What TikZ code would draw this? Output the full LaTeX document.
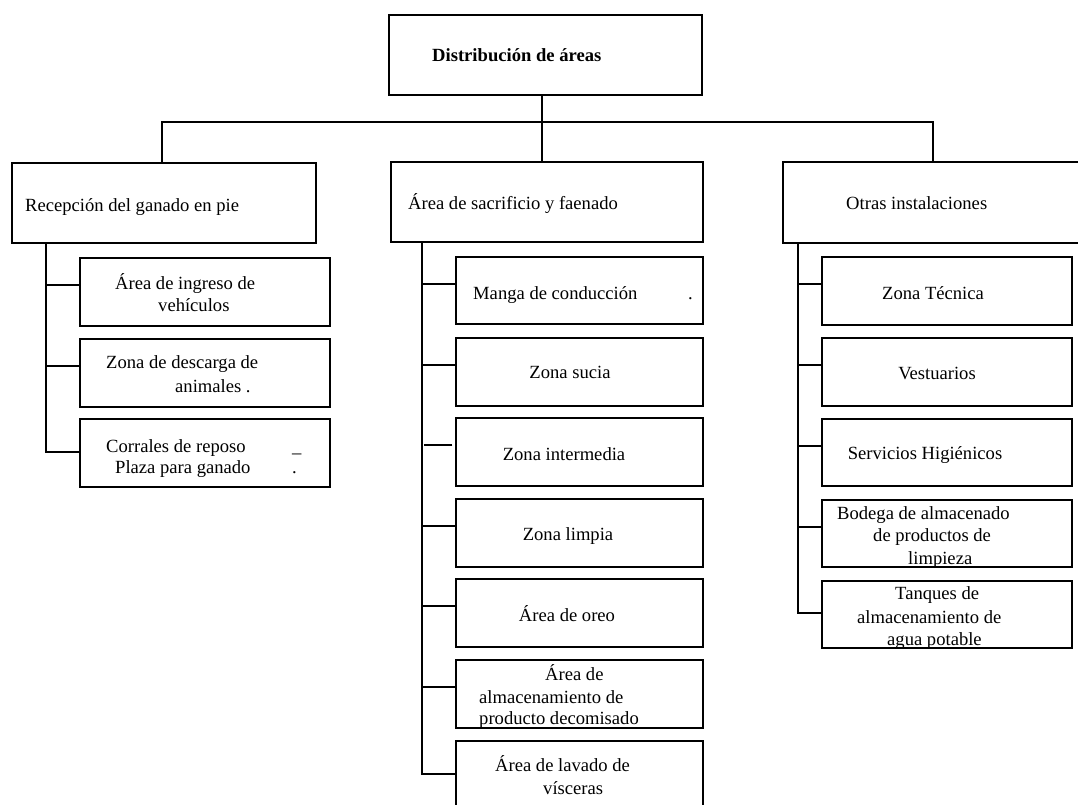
\documentclass[tikz,border=0pt]{standalone}
\usepackage{fontspec}
\setmainfont{Liberation Serif}
\begin{document}
\begin{tikzpicture}[x=1pt,y=-1pt,
  box/.style={draw=black, line width=1.3pt, rectangle, inner sep=0pt},
  wbox/.style={box, minimum width=250pt, minimum height=68pt},
  mbox/.style={box, minimum width=247pt, minimum height=68pt},
  txt/.style={inner sep=0pt, yshift=-3pt, font=\fontsize{18.6}{22}\selectfont},
  lw/.style={txt, anchor=mid west},
  ct/.style={txt, anchor=mid},
  link/.style={line width=1.3pt, draw=black}]
\useasboundingbox (0,0) rectangle (1078,805);
\clip (0,0) rectangle (1078,805);
\fill[white] (0,0) rectangle (1078,805);

% top
\node[box, minimum width=313pt, minimum height=80pt] (top) at (545.5,55) {};
\node[lw] (ttop) at (432,56) {\bfseries Distribución de áreas};

% level 1
\node[box, minimum width=304pt, minimum height=80pt] (rec) at (164,203) {};
\node[box, minimum width=312pt, minimum height=80pt] (sac) at (547,202) {};
\node[box, minimum width=307pt, minimum height=81pt] (otr) at (936.5,202.5) {};
\node[lw] (trec) at (25,206) {Recepción del ganado en pie};
\node[lw] (tsac) at (408,204) {Área de sacrificio y faenado};
\node[lw] (totr) at (846,204) {Otras instalaciones};

\coordinate (hl) at (162,122);
\coordinate (hc) at (542,122);
\coordinate (hr) at (933,122);
\draw[link] (top.south -| hc) -- (hc);
\draw[link] (rec.north -| hl) -- (hl) -- (hr) -- (otr.north -| hr);
\draw[link] (hc) -- (sac.north -| hc);

% left column
\node[wbox] (L1) at (205,292) {};
\node[wbox] (L2) at (205,373) {};
\node[wbox] (L3) at (205,453) {};
\node[lw] (tL1a) at (115,284) {Área de ingreso de};
\node[lw] (tL1b) at (158,306) {vehículos};
\node[lw] (tL2a) at (106,363) {Zona de descarga de};
\node[lw] (tL2b) at (175,387) {animales .};
\node[lw] (tL3a) at (106,447) {Corrales de reposo};
\node[lw] (tL3u) at (292,447) {\_};
\node[lw] (tL3b) at (115,468) {Plaza para ganado};
\node[lw] (tL3p) at (292,468) {.};

\coordinate (lt) at (46,452);
\draw[link] (lt |- rec.south) -- (lt) -- (lt -| L3.west);
\draw[link] ([yshift=7pt]L1.west) -- ([yshift=7pt]L1.west -| lt);
\draw[link] ([yshift=7pt]L2.west) -- ([yshift=7pt]L2.west -| lt);

% middle column
\node[mbox, minimum height=67pt] (M1) at (579.5,290.5) {};
\node[mbox] (M2) at (579.5,372) {};
\node[mbox] (M3) at (579.5,452) {};
\node[mbox] (M4) at (579.5,533) {};
\node[mbox] (M5) at (579.5,613) {};
\node[mbox] (M6) at (579.5,694) {};
\node[mbox] (M7) at (579.5,775) {};
\node[lw] (tM1) at (473,294) {Manga de conducción};
\node[lw] (tM1p) at (688,294) {.};
\node[ct] (tM2) at (570,373) {Zona sucia};
\node[ct] (tM3) at (564,455) {Zona intermedia};
\node[ct] (tM4) at (568,535) {Zona limpia};
\node[ct] (tM5) at (567,616) {Área de oreo};
\node[lw] (tM6a) at (545,675) {Área de};
\node[lw] (tM6b) at (479,698) {almacenamiento de};
\node[lw] (tM6c) at (479,719) {producto decomisado};
\node[lw] (tM7a) at (495,766) {Área de lavado de};
\node[lw] (tM7b) at (543,789) {vísceras};

\coordinate (mt) at (422,774);
\draw[link] (mt |- sac.south) -- (mt) -- (mt -| M7.west);
\foreach \n in {M2,M4,M5,M6}
  \draw[link] ([yshift=7pt]\n.west) -- ([yshift=7pt]\n.west -| mt);
\draw[link] ([yshift=6.5pt]M1.west) -- ([yshift=6.5pt]M1.west -| mt);
\draw[link] ([xshift=-3pt,yshift=7pt]M3.west) -- ([xshift=2pt,yshift=7pt]M3.west -| mt);

% right column
\node[wbox] (R1) at (947,291) {};
\node[wbox] (R2) at (947,372) {};
\node[wbox, minimum height=67pt] (R3) at (947,452.5) {};
\node[wbox, minimum height=67pt] (R4) at (947,533.5) {};
\node[wbox, minimum height=67pt] (R5) at (947,614.5) {};
\node[ct] (tR1) at (933,294) {Zona Técnica};
\node[ct] (tR2) at (937,374) {Vestuarios};
\node[ct] (tR3) at (925,454) {Servicios Higiénicos};
\node[lw] (tR4a) at (837,514) {Bodega de almacenado};
\node[lw] (tR4b) at (873,536) {de productos de};
\node[lw] (tR4c) at (908,559) {limpieza};
\node[lw] (tR5a) at (895,594) {Tanques de};
\node[lw] (tR5b) at (857,618) {almacenamiento de};
\node[lw] (tR5c) at (887,640) {agua potable};

\coordinate (rt) at (798,613);
\draw[link] (rt |- otr.south) -- (rt) -- (rt -| R5.west);
\foreach \n in {R1,R2}
  \draw[link] ([yshift=7pt]\n.west) -- ([yshift=7pt]\n.west -| rt);
\foreach \n in {R3,R4}
  \draw[link] ([yshift=6.5pt]\n.west) -- ([yshift=6.5pt]\n.west -| rt);
\end{tikzpicture}
\end{document}
